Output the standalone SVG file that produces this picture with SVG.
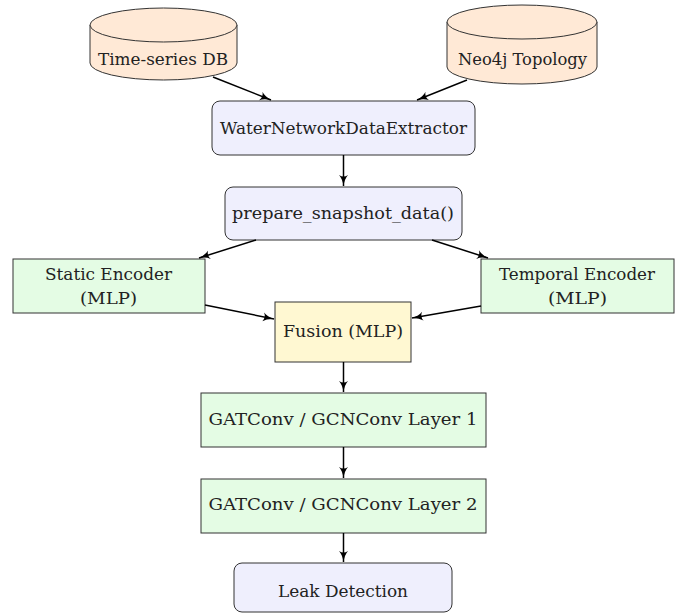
<svg xmlns="http://www.w3.org/2000/svg" width="694" height="615" viewBox="0 0 694 615">
<defs>
<marker id="arr" markerWidth="12" markerHeight="10" viewBox="0 0 12 10" refX="11" refY="5" orient="auto" markerUnits="userSpaceOnUse">
<path d="M0,0.5 Q4,4 11,5 Q4,6 0,9.5 Q3,5 0,0.5 Z" fill="#000"/>
</marker>
<style>
text{font-family:'DejaVu Serif',serif;font-size:16px;fill:#222;text-anchor:middle}
.cyl{fill:#FFE9D6;stroke:#333;stroke-width:1}
.blue{fill:#EFEFFD;stroke:#333;stroke-width:1}
.green{fill:#E4FCE4;stroke:#333;stroke-width:1}
.yellow{fill:#FFF8D2;stroke:#333;stroke-width:1}
.edge{stroke:#000;stroke-width:1.5;fill:none;marker-end:url(#arr)}
</style>
</defs>
<g id="tsdb">
<path class="cyl" d="M90,25 L90,63 A73.5,17 0 0 0 237,63 L237,25 A73.5,17 0 0 0 90,25 Z"/>
<path class="cyl" d="M90,25 A73.5,17 0 0 0 237,25"/>
<text x="163" y="65" textLength="130" lengthAdjust="spacingAndGlyphs">Time-series DB</text>
</g>
<g id="neo4j">
<path class="cyl" d="M447,22 L447,67 A75,17 0 0 0 597,67 L597,22 A75,17 0 0 0 447,22 Z"/>
<path class="cyl" d="M447,22 A75,17 0 0 0 597,22"/>
<text x="522.5" y="65" textLength="129" lengthAdjust="spacingAndGlyphs">Neo4j Topology</text>
</g>
<g id="extractor">
<rect class="blue" x="212" y="101" width="263" height="54" rx="8"/>
<text x="343.5" y="134" textLength="247" lengthAdjust="spacingAndGlyphs">WaterNetworkDataExtractor</text>
</g>
<g id="prepare">
<rect class="blue" x="225" y="187" width="237" height="53" rx="8"/>
<text x="343" y="219" textLength="222" lengthAdjust="spacingAndGlyphs">prepare_snapshot_data()</text>
</g>
<g id="static">
<rect class="green" x="13" y="259" width="192" height="54"/>
<text x="108.5" y="280" textLength="127" lengthAdjust="spacingAndGlyphs">Static Encoder</text>
<text x="108.5" y="304" textLength="57" lengthAdjust="spacingAndGlyphs">(MLP)</text>
</g>
<g id="temporal">
<rect class="green" x="481" y="259" width="193" height="54"/>
<text x="577" y="280" textLength="156" lengthAdjust="spacingAndGlyphs">Temporal Encoder</text>
<text x="577.5" y="304" textLength="59" lengthAdjust="spacingAndGlyphs">(MLP)</text>
</g>
<g id="fusion">
<rect class="yellow" x="275" y="302" width="136" height="60"/>
<text x="343" y="337" textLength="120" lengthAdjust="spacingAndGlyphs">Fusion (MLP)</text>
</g>
<g id="gat1">
<rect class="green" x="201" y="393" width="285" height="54"/>
<text x="343" y="425" textLength="269" lengthAdjust="spacingAndGlyphs">GATConv / GCNConv Layer 1</text>
</g>
<g id="gat2">
<rect class="green" x="201" y="479" width="285" height="54"/>
<text x="343" y="510" textLength="269" lengthAdjust="spacingAndGlyphs">GATConv / GCNConv Layer 2</text>
</g>
<g id="leak">
<rect class="blue" x="234" y="563" width="218" height="49" rx="8"/>
<text x="343" y="597" textLength="130" lengthAdjust="spacingAndGlyphs">Leak Detection</text>
</g>
<g id="connectors">
<line class="edge" x1="213" y1="77" x2="271" y2="100"/>
<line class="edge" x1="467" y1="80" x2="417" y2="100"/>
<line class="edge" x1="343.5" y1="155" x2="343.5" y2="186"/>
<line class="edge" x1="256" y1="240" x2="199" y2="258"/>
<line class="edge" x1="432" y1="240" x2="488" y2="258"/>
<line class="edge" x1="205" y1="305" x2="274" y2="319"/>
<line class="edge" x1="481" y1="306" x2="412" y2="318"/>
<line class="edge" x1="343.5" y1="362" x2="343.5" y2="392"/>
<line class="edge" x1="343.5" y1="447" x2="343.5" y2="478"/>
<line class="edge" x1="343.5" y1="533" x2="343.5" y2="562"/>
</g>
</svg>
